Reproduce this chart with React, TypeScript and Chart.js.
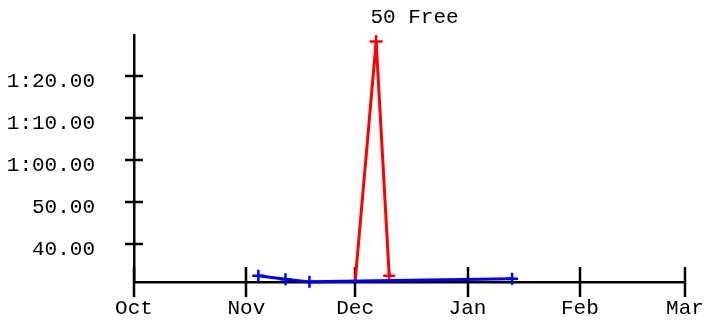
import React, { useEffect, useRef } from 'react';
import { Chart, registerables } from 'chart.js';

Chart.register(...registerables);

const chartTitle = '50 Free';
const monthLabels = ['Oct', 'Nov', 'Dec', 'Jan', 'Feb', 'Mar'];
// days since Oct 1 (season spans a leap-year February)
const monthDays = [0, 31, 61, 92, 123, 152];
const yTickValues = [40, 50, 60, 70, 80];
const blueDays = [34.3, 41.8, 48.4, 104.3];
const blueTimes = [32.45, 31.6, 30.98, 31.75];
const redDays = [61, 66.8, 70.4];
const redTimes = [31.0, 88.25, 32.45];
const yMin = 30.95;
const yMax = 89.8;

const FONT = '"Liberation Mono", "Courier New", monospace';
const FONT_SIZE = 21;

function formatTime(v: number): string {
  if (v >= 60) {
    const m = Math.floor(v / 60);
    const s = v - m * 60;
    return `${m}:${s.toFixed(2).padStart(5, '0')}`;
  }
  return v.toFixed(2);
}

const tickMarks = {
  id: 'tickMarks',
  beforeDatasetsDraw(chart: any) {
    const { ctx, chartArea, scales } = chart;
    ctx.save();
    ctx.strokeStyle = '#000';
    ctx.lineWidth = 2.5;
    ctx.beginPath();
    scales.x.ticks.forEach((t: any) => {
      const px = Math.round(scales.x.getPixelForValue(t.value));
      ctx.moveTo(px, chartArea.bottom - 15);
      ctx.lineTo(px, chartArea.bottom + 15);
    });
    scales.y.ticks.forEach((t: any) => {
      const py = Math.round(scales.y.getPixelForValue(t.value));
      ctx.moveTo(chartArea.left - 9, py);
      ctx.lineTo(chartArea.left + 9, py);
    });
    ctx.stroke();
    ctx.restore();
  },
  afterDraw(chart: any) {
    const { ctx, chartArea } = chart;
    ctx.save();
    ctx.font = `${FONT_SIZE}px ${FONT}`;
    ctx.fillStyle = '#000';
    ctx.textAlign = 'center';
    ctx.textBaseline = 'middle';
    ctx.fillText(chartTitle, (chartArea.left + chartArea.right) / 2 + 5, 17);
    ctx.restore();
  },
};

export default function App() {
  const ref = useRef<HTMLCanvasElement>(null);
  useEffect(() => {
    if (!ref.current) return;
    const chart = new Chart(ref.current, {
      type: 'line',
      data: {
        datasets: [
          {
            label: 'blue',
            data: blueDays.map((d, i) => ({ x: d, y: blueTimes[i] })),
            borderColor: '#0000ff',
            backgroundColor: '#0000ff',
            borderWidth: 3,
            pointStyle: 'cross',
            pointRadius: 6,
            pointBorderWidth: 2.5,
            tension: 0,
            clip: false as any,
          },
          {
            label: 'red',
            data: redDays.map((d, i) => ({ x: d, y: redTimes[i] })),
            borderColor: '#ff0000',
            backgroundColor: '#ff0000',
            borderWidth: 3,
            pointStyle: 'cross',
            pointRadius: [0, 6.5, 6],
            pointBorderWidth: 2.5,
            tension: 0,
            clip: false as any,
          },
        ],
      },
      options: {
        animation: false,
        responsive: true,
        maintainAspectRatio: false,
        layout: { autoPadding: false, padding: { top: 35, right: 21, left: 0, bottom: 0 } },
        plugins: { legend: { display: false }, tooltip: { enabled: false }, title: { display: false } },
        scales: {
          x: {
            type: 'linear',
            min: monthDays[0],
            max: monthDays[monthDays.length - 1],
            afterBuildTicks: (s: any) => {
              s.ticks = monthDays.map((v) => ({ value: v }));
            },
            afterFit: (s: any) => {
              s.height = 38;
              s.paddingLeft = 0;
              s.paddingRight = 0;
            },
            grid: { display: false, drawTicks: false },
            border: { display: true, color: '#000', width: 2.5 },
            ticks: {
              padding: 14,
              maxRotation: 0,
              autoSkip: false,
              color: '#000',
              font: { family: FONT, size: FONT_SIZE },
              callback: (_v: any, i: number) => monthLabels[i],
            },
          },
          y: {
            type: 'linear',
            min: yMin,
            max: yMax,
            afterBuildTicks: (s: any) => {
              s.ticks = yTickValues.map((v) => ({ value: v }));
            },
            afterFit: (s: any) => {
              s.width = 134;
              s.paddingTop = 0;
              s.paddingBottom = 0;
            },
            grid: { display: false, drawTicks: false },
            border: { display: true, color: '#000', width: 2.5 },
            ticks: {
              padding: 39,
              labelOffset: 5,
              color: '#000',
              font: { family: FONT, size: FONT_SIZE },
              callback: (v: any) => formatTime(Number(v)),
            },
          },
        },
      },
      plugins: [tickMarks],
    } as any);
    return () => chart.destroy();
  }, []);
  return (
    <div style={{ position: 'absolute', left: 0, top: 0, width: 706, height: 320 }}>
      <canvas ref={ref} />
    </div>
  );
}
